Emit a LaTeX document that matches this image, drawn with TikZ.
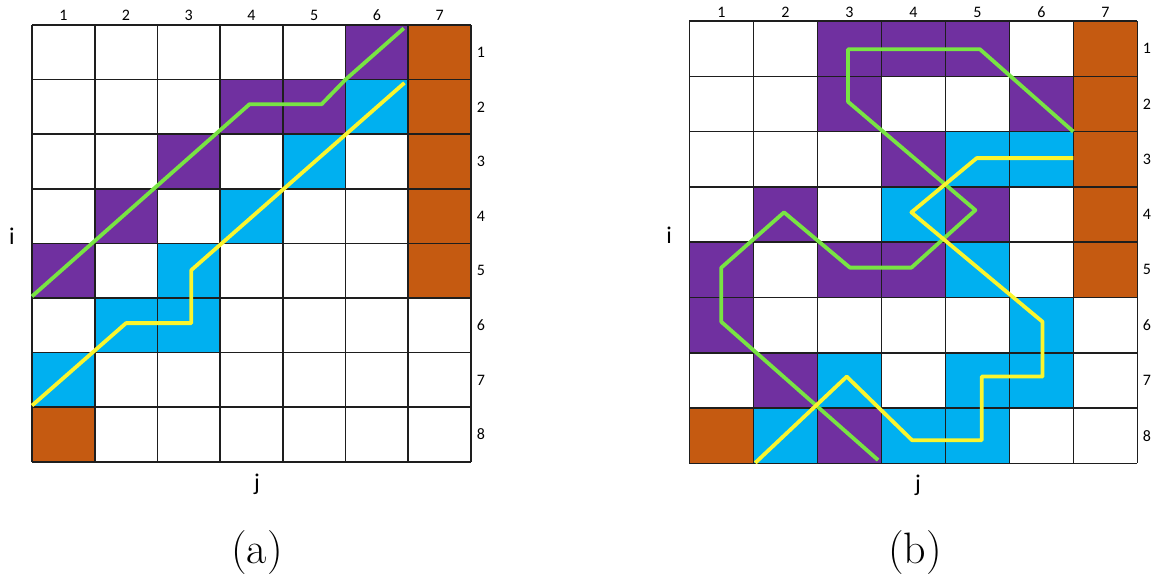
\documentclass[tikz,border=0pt]{standalone}
\usepackage{fontspec}
\newfontfamily\labfont{Carlito}
\definecolor{purp}{HTML}{7030A0}
\definecolor{bluec}{HTML}{00B0F0}
\definecolor{brownc}{HTML}{C55A11}
\definecolor{greenl}{HTML}{78E443}
\definecolor{yellowl}{HTML}{FAF52E}
\definecolor{gridc}{HTML}{1E1E1E}
\tikzset{
  gridline/.style={draw=gridc, line width=1.6pt},
  pathline/.style={line width=3.8pt, line join=round},
  numlab/.style={font=\labfont\fontsize{16}{18}\selectfont, inner sep=0pt},
  axlab/.style={font=\labfont\fontsize{24}{27}\selectfont, inner sep=0pt},
  caplab/.style={font=\fontsize{44}{48}\selectfont, inner sep=0pt},
}
\begin{document}
\begin{tikzpicture}[x=1pt,y=-1pt]
\useasboundingbox (0,0) rectangle (1161,584);

% ---------------- grid (a) ----------------
\begin{scope}[shift={(32,25)}, x=62.7pt, y=-54.6pt]
  \foreach \c/\r in {6/1,4/2,5/2,3/3,2/4,1/5}
    \fill[purp] (\c-1,\r-1) rectangle (\c,\r);
  \foreach \c/\r in {6/2,5/3,4/4,3/5,2/6,3/6,1/7}
    \fill[bluec] (\c-1,\r-1) rectangle (\c,\r);
  \foreach \c/\r in {7/1,7/2,7/3,7/4,7/5,1/8}
    \fill[brownc] (\c-1,\r-1) rectangle (\c,\r);
  \foreach \k in {0,...,7} \draw[gridline] (\k,0) -- (\k,8);
  \foreach \k in {0,...,8} \draw[gridline] (0,\k) -- (7,\k);
  \draw[pathline, greenl] (0,4.97) -- (3.47,1.45) -- (4.62,1.45) -- (5,1) -- (5.93,0.06);
  \draw[pathline, yellowl] (5.94,1.06) -- (2.54,4.49) -- (2.54,5.46) -- (1.5,5.46) -- (0,6.97);
\end{scope}
\foreach \c in {1,...,7}
  \node[numlab] (ca\c) at ({32+62.7*(\c-0.5)},15) {\c};
\foreach \r in {1,...,8}
  \node[numlab] (ra\r) at (481,{25+54.6*(\r-0.5)}) {\r};
\node[axlab] (ia) at (12,236) {i};
\node[axlab] (ja) at (257,484) {j};
\node[caplab] (capa) at (257,553) {(a)};

% ---------------- grid (b) ----------------
\begin{scope}[shift={(689.3,21)}, x=64pt, y=-55.3pt]
  \foreach \c/\r in {3/1,4/1,5/1,3/2,6/2,4/3,2/4,5/4,1/5,3/5,4/5,1/6,2/7,3/8}
    \fill[purp] (\c-1,\r-1) rectangle (\c,\r);
  \foreach \c/\r in {5/3,6/3,4/4,5/5,6/6,3/7,5/7,6/7,2/8,4/8,5/8}
    \fill[bluec] (\c-1,\r-1) rectangle (\c,\r);
  \foreach \c/\r in {7/1,7/2,7/3,7/4,7/5,1/8}
    \fill[brownc] (\c-1,\r-1) rectangle (\c,\r);
  \foreach \k in {0,...,7} \draw[gridline] (\k,0) -- (\k,8);
  \foreach \k in {0,...,8} \draw[gridline] (0,\k) -- (7,\k);
  \draw[pathline, greenl] (6,2) -- (4.54,0.51) -- (2.48,0.51) -- (2.48,1.46)
    -- (4.47,3.42) -- (3.47,4.46) -- (2.51,4.46) -- (1.48,3.46) -- (0.5,4.46)
    -- (0.5,5.44) -- (2.95,7.94);
  \draw[pathline, yellowl] (6,2.48) -- (4.49,2.48) -- (3.47,3.46) -- (5.52,5.44)
    -- (5.52,6.43) -- (4.57,6.43) -- (4.57,7.58) -- (3.48,7.58) -- (2.46,6.43)
    -- (1.03,7.99);
\end{scope}
\foreach \c in {1,...,7}
  \node[numlab] (cb\c) at ({689.3+64*(\c-0.5)},12) {\c};
\foreach \r in {1,...,8}
  \node[numlab] (rb\r) at (1147,{21+55.3*(\r-0.5)}) {\r};
\node[axlab] (ib) at (669,235) {i};
\node[axlab] (jb) at (918,485) {j};
\node[caplab] (capb) at (915,553) {(b)};
\end{tikzpicture}
\end{document}
